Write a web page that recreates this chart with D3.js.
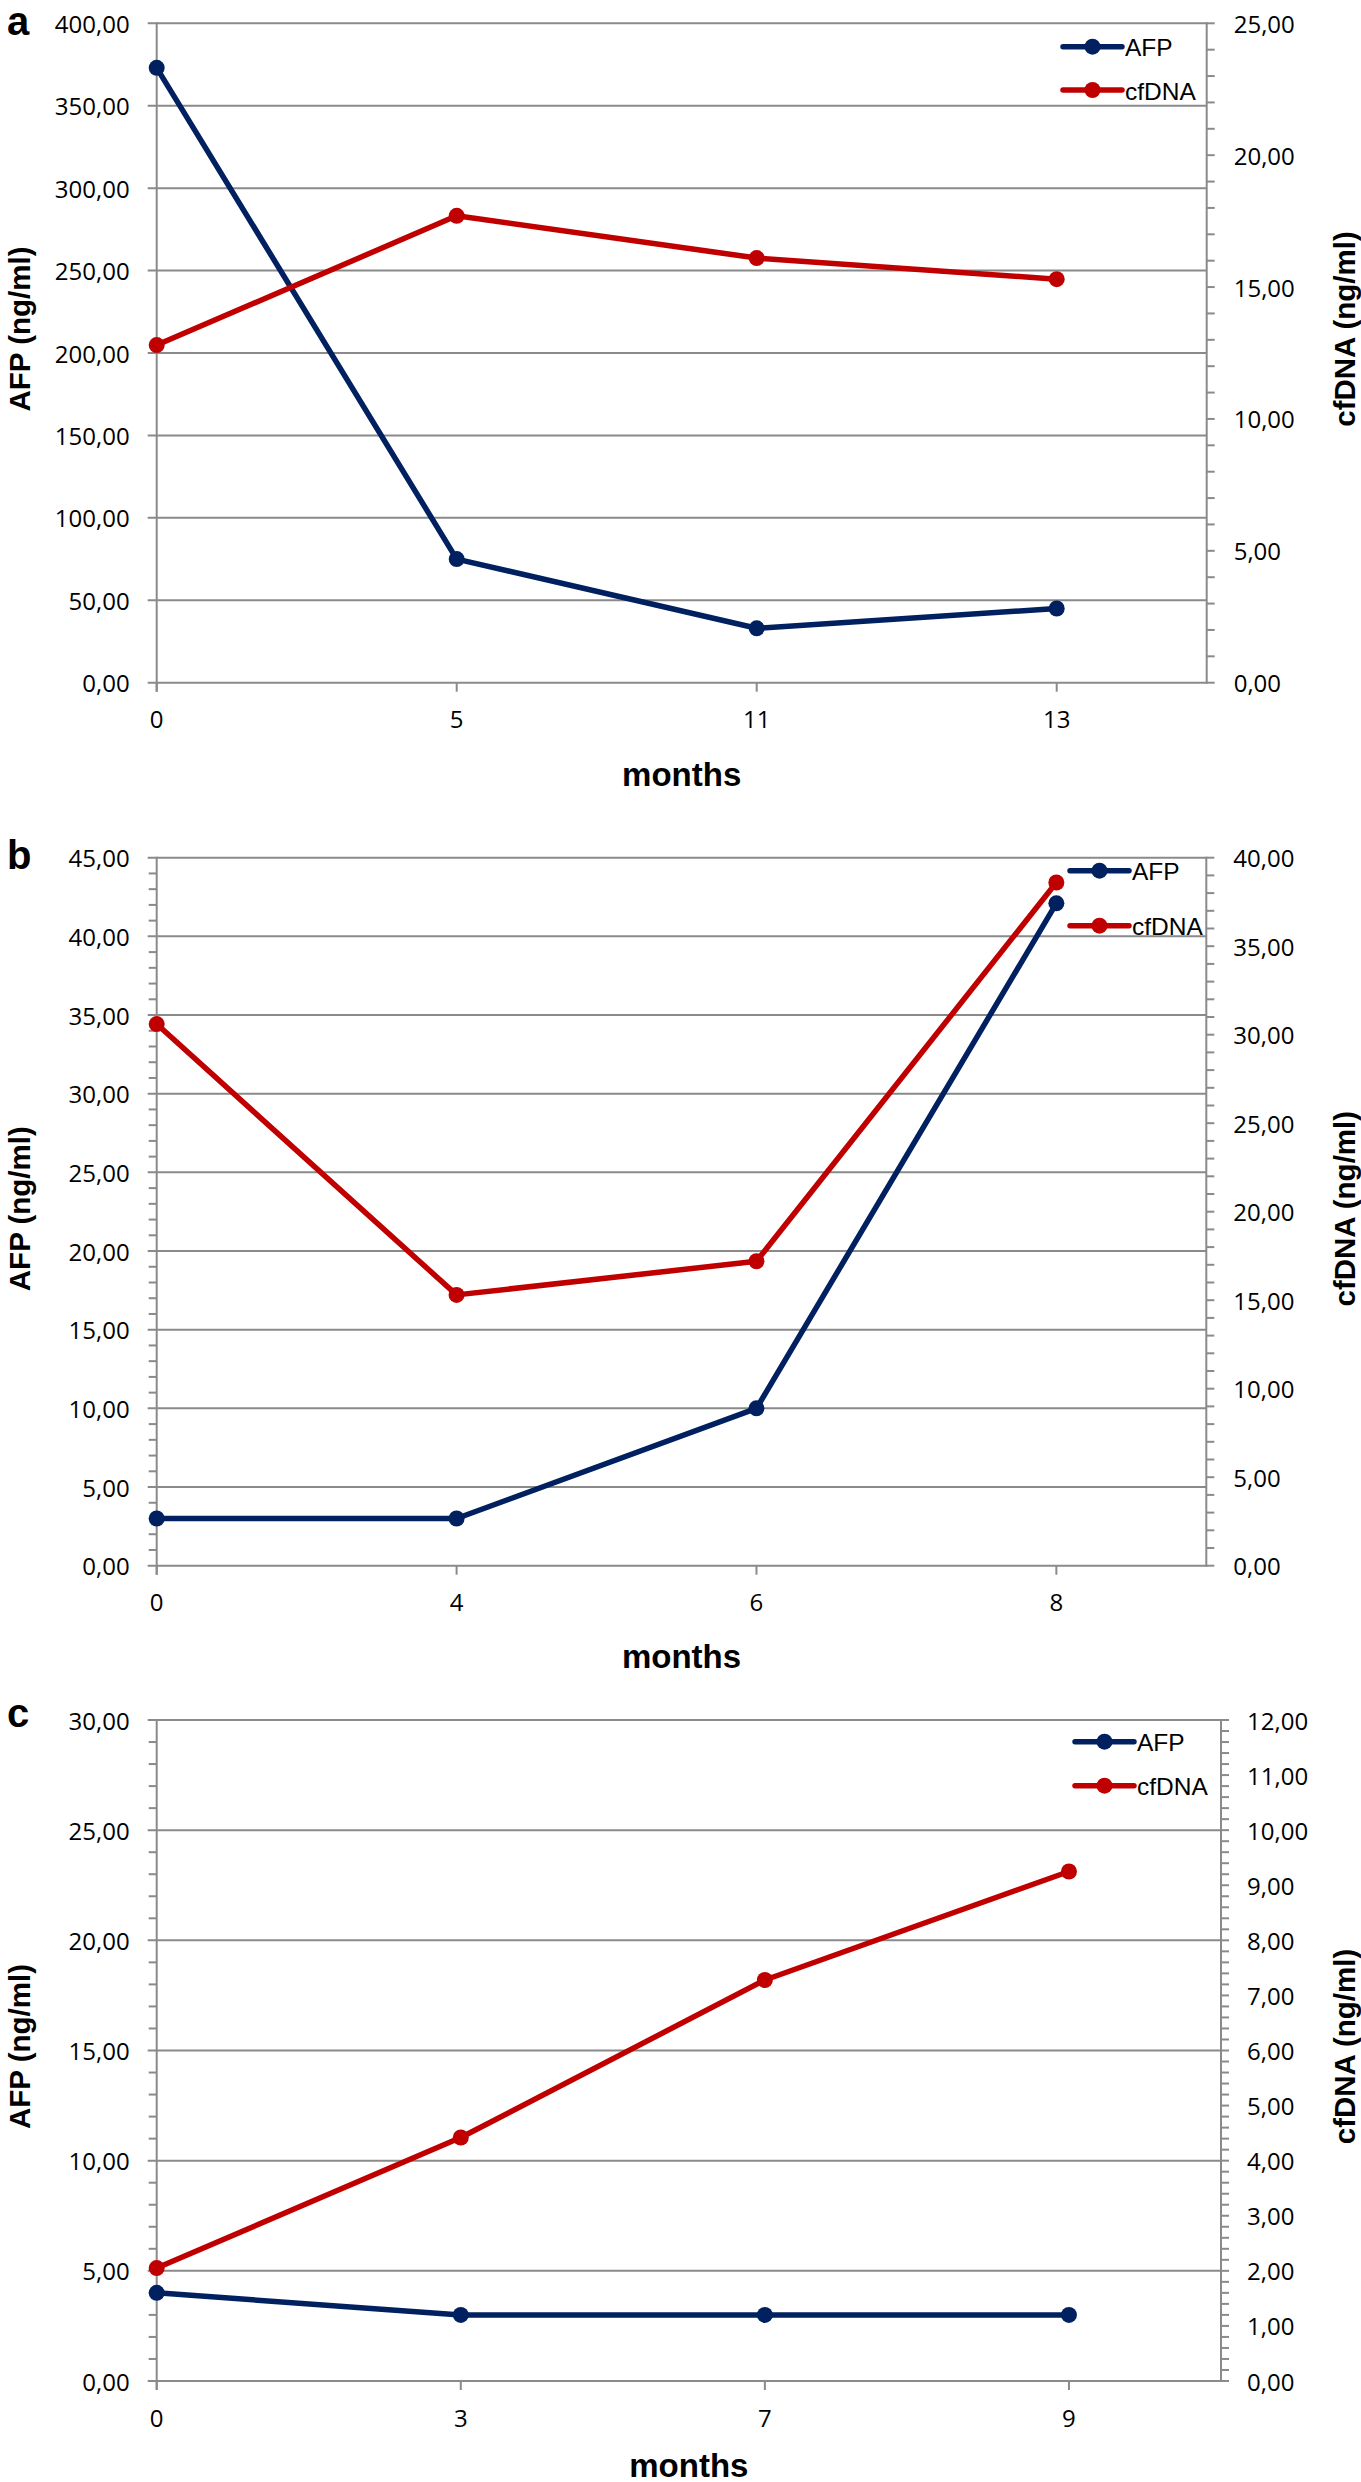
<!DOCTYPE html>
<html><head><meta charset="utf-8">
<script src="https://cdn.jsdelivr.net/npm/d3@7"></script>
<style>
html,body{margin:0;padding:0;background:#fff;}
svg{display:block;}
</style></head>
<body>
<svg id="chart" width="1361" height="2482"></svg>
<script>
// ---------- DATA ----------
const panelLetters = ["a", "b", "c"];
const seriesNames = ["AFP", "cfDNA"];

const monthsA = ["0", "5", "11", "13"];
const afpA    = [373, 75, 33, 45];
const cfdnaA  = [12.8, 17.7, 16.1, 15.3];

const monthsB = ["0", "4", "6", "8"];
const afpB    = [3, 3, 10, 42.1];
const cfdnaB  = [30.6, 15.3, 17.2, 38.6];

const monthsC = ["0", "3", "7", "9"];
const afpC    = [4, 3, 3, 3];
const cfdnaC  = [2.05, 4.42, 7.28, 9.25];

const leftTicksA  = [0, 50, 100, 150, 200, 250, 300, 350, 400];
const rightTicksA = [0, 5, 10, 15, 20, 25];
const leftTicksB  = [0, 5, 10, 15, 20, 25, 30, 35, 40, 45];
const rightTicksB = [0, 5, 10, 15, 20, 25, 30, 35, 40];
const leftTicksC  = [0, 5, 10, 15, 20, 25, 30];
const rightTicksC = [0, 1, 2, 3, 4, 5, 6, 7, 8, 9, 10, 11, 12];

const xTitle = "months";
const leftTitle = "AFP (ng/ml)";
const rightTitle = "cfDNA (ng/ml)";

// ---------- STYLE / LAYOUT ----------
const colAFP = "#002060";
const colDNA = "#C00000";
const gridCol = "#8a8a8a";
const tickFont = "'Open Sans', 'Noto Sans', sans-serif";
const titleFont = "'Liberation Sans', Arial, sans-serif";

const panels = [
  {letter: panelLetters[0], months: monthsA, afp: afpA, dna: cfdnaA,
   lt: leftTicksA, rt: rightTicksA, lMinor: null, rMinor: 1,
   top: 23.3, bottom: 682.7, left: 156.7, right: 1206.7,
   legX: 1063, legY: [46.7, 90], letterY: 35, rLabX: 27, titleDY: -24, monthsDY: 92},
  {letter: panelLetters[1], months: monthsB, afp: afpB, dna: cfdnaB,
   lt: leftTicksB, rt: rightTicksB, lMinor: 1, rMinor: 1,
   top: 857.7, bottom: 1565.7, left: 156.7, right: 1206.3,
   legX: 1070, legY: [870.7, 925.7], letterY: 869, rLabX: 27, titleDY: -3, monthsDY: 91},
  {letter: panelLetters[2], months: monthsC, afp: afpC, dna: cfdnaC,
   lt: leftTicksC, rt: rightTicksC, lMinor: 1, rMinor: 0.2,
   top: 1720, bottom: 2381, left: 156.7, right: 1221,
   legX: 1075, legY: [1741.7, 1785.7], letterY: 1727, rLabX: 26, titleDY: -4, monthsDY: 84}
];

const loc = d3.formatLocale({decimal: ",", thousands: ".", grouping: [3], currency: ["", ""]});
const fmt = loc.format(".2f");

const svg = d3.select("#chart");

panels.forEach(p => {
  const g = svg.append("g");
  const n = p.months.length;
  const x = d3.scaleLinear().domain([0, n - 0.5]).range([p.left, p.right]);
  const lMax = p.lt[p.lt.length - 1];
  const rMax = p.rt[p.rt.length - 1];
  const yL = d3.scaleLinear().domain([0, lMax]).range([p.bottom, p.top]);
  const yR = d3.scaleLinear().domain([0, rMax]).range([p.bottom, p.top]);

  // gridlines (from left tick marks outside to right axis)
  g.append("g").selectAll("line").data(p.lt).join("line")
    .attr("x1", p.left - 9).attr("x2", p.right)
    .attr("y1", d => yL(d)).attr("y2", d => yL(d))
    .attr("stroke", gridCol).attr("stroke-width", 2);

  // left minor ticks
  if (p.lMinor) {
    const minors = d3.range(0, lMax + 1e-9, p.lMinor).filter(v => Math.abs(v / p.lt[1] - Math.round(v / p.lt[1])) > 1e-6);
    g.append("g").selectAll("line").data(minors).join("line")
      .attr("x1", p.left - 8).attr("x2", p.left)
      .attr("y1", d => yL(d)).attr("y2", d => yL(d))
      .attr("stroke", gridCol).attr("stroke-width", 2);
  }
  // right ticks (major + minor)
  const rAll = d3.range(0, rMax + 1e-9, p.rMinor);
  g.append("g").selectAll("line").data(rAll).join("line")
    .attr("x1", p.right).attr("x2", p.right + 8)
    .attr("y1", d => yR(d)).attr("y2", d => yR(d))
    .attr("stroke", gridCol).attr("stroke-width", 2);

  // axis lines
  g.append("line").attr("x1", p.left).attr("x2", p.left).attr("y1", p.top - 1).attr("y2", p.bottom + 9)
    .attr("stroke", gridCol).attr("stroke-width", 2);
  g.append("line").attr("x1", p.right).attr("x2", p.right).attr("y1", p.top - 1).attr("y2", p.bottom + 1)
    .attr("stroke", gridCol).attr("stroke-width", 2);

  // x ticks
  const idx = d3.range(n);
  g.append("g").selectAll("line").data(idx).join("line")
    .attr("x1", d => x(d)).attr("x2", d => x(d))
    .attr("y1", p.bottom).attr("y2", p.bottom + 9)
    .attr("stroke", gridCol).attr("stroke-width", 2);

  // left tick labels
  g.append("g").selectAll("text").data(p.lt).join("text")
    .attr("x", p.left - 27).attr("y", d => yL(d))
    .attr("text-anchor", "end").attr("dominant-baseline", "central")
    .attr("font-family", tickFont).attr("font-size", 24).attr("fill", "#000")
    .text(d => fmt(d));
  // right tick labels
  g.append("g").selectAll("text").data(p.rt).join("text")
    .attr("x", p.right + p.rLabX).attr("y", d => yR(d))
    .attr("text-anchor", "start").attr("dominant-baseline", "central")
    .attr("font-family", tickFont).attr("font-size", 24).attr("fill", "#000")
    .text(d => fmt(d));
  // x labels
  g.append("g").selectAll("text").data(idx).join("text")
    .attr("x", d => x(d)).attr("y", p.bottom + 36)
    .attr("text-anchor", "middle").attr("dominant-baseline", "central")
    .attr("font-family", tickFont).attr("font-size", 24).attr("fill", "#000")
    .text(d => p.months[d]);

  // titles
  g.append("text").attr("x", (p.left + p.right) / 2).attr("y", p.bottom + p.monthsDY)
    .attr("text-anchor", "middle").attr("dominant-baseline", "central")
    .attr("font-family", titleFont).attr("font-weight", "bold").attr("font-size", 33)
    .text(xTitle);
  const midY = (p.top + p.bottom) / 2 + p.titleDY;
  g.append("text").attr("transform", `translate(19,${midY}) rotate(-90)`)
    .attr("text-anchor", "middle").attr("dominant-baseline", "central")
    .attr("font-family", titleFont).attr("font-weight", "bold").attr("font-size", 29.5)
    .text(leftTitle);
  g.append("text").attr("transform", `translate(1344,${midY}) rotate(-90)`)
    .attr("text-anchor", "middle").attr("dominant-baseline", "central")
    .attr("font-family", titleFont).attr("font-weight", "bold").attr("font-size", 29.5)
    .text(rightTitle);

  // panel letter
  g.append("text").attr("x", 7).attr("y", p.letterY)
    .attr("font-family", titleFont).attr("font-weight", "bold").attr("font-size", 40)
    .text(p.letter);

  // series
  const lineL = d3.line().x((d, i) => x(i)).y(d => yL(d));
  const lineR = d3.line().x((d, i) => x(i)).y(d => yR(d));
  const series = [
    {name: seriesNames[0], vals: p.afp, y: yL, line: lineL, col: colAFP},
    {name: seriesNames[1], vals: p.dna, y: yR, line: lineR, col: colDNA}
  ];
  series.forEach(s => {
    g.append("path").datum(s.vals).attr("d", s.line)
      .attr("fill", "none").attr("stroke", s.col).attr("stroke-width", 5.5)
      .attr("stroke-linejoin", "round").attr("stroke-linecap", "round");
    g.append("g").selectAll("circle").data(s.vals).join("circle")
      .attr("cx", (d, i) => x(i)).attr("cy", d => s.y(d)).attr("r", 8)
      .attr("fill", s.col);
  });

  // legend
  series.forEach((s, k) => {
    const ly = p.legY[k];
    g.append("line").attr("x1", p.legX).attr("x2", p.legX + 59).attr("y1", ly).attr("y2", ly)
      .attr("stroke", s.col).attr("stroke-width", 5.5).attr("stroke-linecap", "round");
    g.append("circle").attr("cx", p.legX + 29.5).attr("cy", ly).attr("r", 8).attr("fill", s.col);
    g.append("text").attr("x", p.legX + 62).attr("y", ly + 1)
      .attr("dominant-baseline", "central")
      .attr("font-family", titleFont).attr("font-size", 24.5).attr("fill", "#000")
      .text(s.name);
  });
});
</script>
</body></html>
